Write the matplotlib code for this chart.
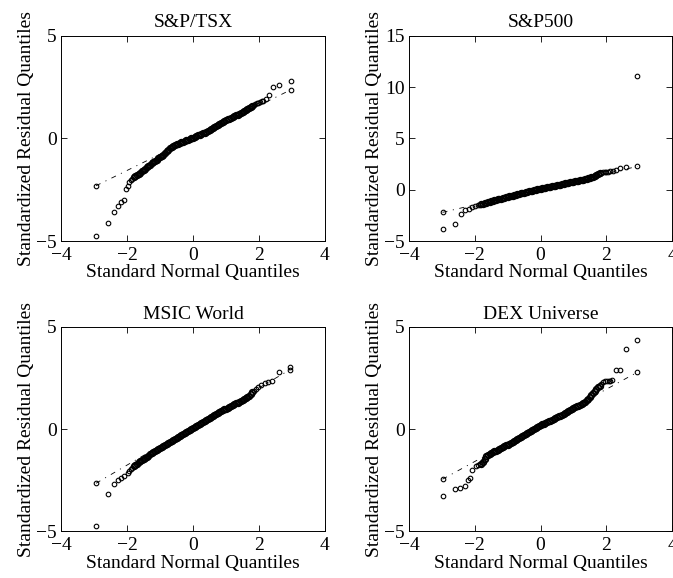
import matplotlib
matplotlib.use("Agg")
import matplotlib.pyplot as plt

plt.rcParams['font.family'] = ['Liberation Serif', 'DejaVu Serif']
plt.rcParams['lines.scale_dashes'] = False

titles = ["S&P/TSX", "S&P500", "MSIC World", "DEX Universe"]
x_label = "Standard Normal Quantiles"
y_label = "Standardized Residual Quantiles"
x_ticks = [-4, -2, 0, 2, 4]
y_ticks_small = [-5, 0, 5]
y_ticks_sp500 = [-5, 0, 5, 10, 15]

# shared central normal quantiles (dense part of each Q-Q plot)
mid_x = [-1.80, -1.75, -1.70, -1.65, -1.60, -1.55, -1.50, -1.45, -1.40, -1.35,
         -1.30, -1.25, -1.20, -1.15, -1.10, -1.05, -1.00, -0.95, -0.90, -0.85,
         -0.80, -0.75, -0.70, -0.65, -0.60, -0.55, -0.50, -0.45, -0.40, -0.35,
         -0.30, -0.25, -0.20, -0.15, -0.10, -0.05, 0.00, 0.05, 0.10, 0.15,
         0.20, 0.25, 0.30, 0.35, 0.40, 0.45, 0.50, 0.55, 0.60, 0.65,
         0.70, 0.75, 0.80, 0.85, 0.90, 0.95, 1.00, 1.05, 1.10, 1.15,
         1.20, 1.25, 1.30, 1.35, 1.40, 1.45, 1.50, 1.55, 1.60, 1.65,
         1.70, 1.75, 1.80]

# S&P/TSX
tsx_mid_y = [-1.90, -1.84, -1.78, -1.73, -1.67, -1.61, -1.54, -1.48, -1.41, -1.34,
             -1.28, -1.21, -1.15, -1.10, -1.04, -0.98, -0.93, -0.88, -0.80, -0.72,
             -0.64, -0.56, -0.48, -0.41, -0.37, -0.33, -0.29, -0.26, -0.23, -0.20,
             -0.16, -0.12, -0.09, -0.06, -0.02, 0.01, 0.04, 0.07, 0.11, 0.14,
             0.17, 0.21, 0.24, 0.28, 0.32, 0.36, 0.40, 0.44, 0.49, 0.53,
             0.58, 0.63, 0.69, 0.75, 0.80, 0.84, 0.88, 0.92, 0.96, 1.00,
             1.04, 1.08, 1.12, 1.16, 1.20, 1.24, 1.28, 1.32, 1.37, 1.42,
             1.47, 1.52, 1.57]
tsx_tail_x = [-2.94, -2.58, -2.39, -2.28, -2.18, -2.09, -2.04, -1.98, -1.93, -1.88, -1.84,
              1.85, 1.88, 1.93, 1.98, 2.03, 2.08, 2.13, 2.21, 2.30, 2.43, 2.61, 2.97]
tsx_tail_y = [-4.77, -4.11, -3.61, -3.28, -3.09, -3.01, -2.47, -2.34, -2.11, -2.03, -1.96,
              1.62, 1.66, 1.70, 1.73, 1.76, 1.80, 1.84, 1.91, 2.11, 2.52, 2.59, 2.80]
tsx_line_x = [-2.94, 2.97]
tsx_line_y = [-2.31, 2.37]

# S&P500
sp500_mid_y = [-1.42, -1.37, -1.32, -1.27, -1.22, -1.18, -1.13, -1.09, -1.04, -1.00,
               -0.95, -0.91, -0.86, -0.82, -0.78, -0.73, -0.69, -0.65, -0.61, -0.57,
               -0.53, -0.49, -0.45, -0.41, -0.37, -0.33, -0.29, -0.25, -0.21, -0.17,
               -0.13, -0.09, -0.05, -0.02, 0.02, 0.05, 0.08, 0.12, 0.15, 0.19,
               0.22, 0.26, 0.29, 0.33, 0.36, 0.40, 0.43, 0.47, 0.50, 0.54,
               0.57, 0.61, 0.64, 0.68, 0.71, 0.75, 0.78, 0.82, 0.85, 0.89,
               0.92, 0.96, 0.99, 1.03, 1.07, 1.11, 1.15, 1.20, 1.26, 1.33,
               1.42, 1.52, 1.60]
sp500_tail_x = [-2.98, -2.61, -2.43, -2.29, -2.18, -2.09, -1.98, -1.90, -1.85,
                1.85, 1.90, 1.95, 2.00, 2.06, 2.12, 2.20, 2.30, 2.42, 2.60, 2.95]
sp500_tail_y = [-3.80, -3.31, -2.37, -1.95, -1.85, -1.72, -1.62, -1.54, -1.48,
                1.66, 1.70, 1.72, 1.74, 1.76, 1.78, 1.82, 1.88, 2.07, 2.17, 11.08]
sp500_line_x = [-2.98, 2.95]
sp500_line_y = [-2.21, 2.27]

# MSIC World
msci_mid_y = [-1.82, -1.75, -1.69, -1.63, -1.57, -1.51, -1.45, -1.40, -1.34, -1.29,
              -1.23, -1.18, -1.13, -1.08, -1.03, -0.97, -0.92, -0.87, -0.82, -0.77,
              -0.71, -0.66, -0.61, -0.56, -0.51, -0.46, -0.41, -0.37, -0.32, -0.27,
              -0.22, -0.17, -0.13, -0.08, -0.03, 0.01, 0.05, 0.10, 0.15, 0.20,
              0.25, 0.30, 0.35, 0.39, 0.44, 0.49, 0.54, 0.59, 0.64, 0.69,
              0.73, 0.78, 0.83, 0.88, 0.93, 0.97, 1.01, 1.05, 1.09, 1.13,
              1.18, 1.22, 1.26, 1.30, 1.34, 1.38, 1.43, 1.47, 1.52, 1.57,
              1.63, 1.72, 1.82]
msci_tail_x = [-2.94, -2.58, -2.40, -2.28, -2.18, -2.08, -1.98, -1.93, -1.88, -1.84,
               1.85, 1.90, 1.97, 2.07, 2.17, 2.27, 2.39, 2.61, 2.93]
msci_tail_y = [-4.74, -3.19, -2.70, -2.49, -2.37, -2.27, -2.16, -2.05, -1.96, -1.89,
               1.88, 1.95, 2.05, 2.16, 2.25, 2.33, 2.38, 2.82, 3.03]
msci_line_x = [-2.94, 2.93]
msci_line_y = [-2.65, 2.90]

# DEX Universe
dex_mid_y = [-1.70, -1.62, -1.48, -1.32, -1.27, -1.22, -1.17, -1.13, -1.09, -1.05,
             -1.01, -0.97, -0.92, -0.88, -0.84, -0.80, -0.76, -0.72, -0.67, -0.62,
             -0.57, -0.52, -0.47, -0.42, -0.37, -0.32, -0.27, -0.22, -0.17, -0.12,
             -0.08, -0.03, 0.02, 0.07, 0.11, 0.15, 0.19, 0.23, 0.26, 0.30,
             0.34, 0.38, 0.42, 0.46, 0.50, 0.54, 0.58, 0.62, 0.66, 0.70,
             0.74, 0.79, 0.84, 0.89, 0.93, 0.98, 1.03, 1.07, 1.11, 1.15,
             1.19, 1.24, 1.29, 1.35, 1.41, 1.48, 1.56, 1.65, 1.75, 1.85,
             1.95, 2.05, 2.12]
dex_tail_x = [-2.98, -2.61, -2.44, -2.31, -2.21, -2.13, -2.07, -1.96, -1.90, -1.85,
              1.85, 1.91, 1.96, 2.02, 2.07, 2.12, 2.19, 2.29, 2.42, 2.60, 2.95]
dex_tail_y = [-3.25, -2.93, -2.86, -2.78, -2.49, -2.37, -2.00, -1.79, -1.76, -1.73,
              2.21, 2.30, 2.35, 2.38, 2.38, 2.38, 2.39, 2.90, 2.91, 3.91, 4.37]
dex_line_x = [-2.98, 2.95]
dex_line_y = [-2.45, 2.79]

panels = [
    (titles[0], tsx_mid_y, tsx_tail_x, tsx_tail_y, tsx_line_x, tsx_line_y, (-5, 5), y_ticks_small),
    (titles[1], sp500_mid_y, sp500_tail_x, sp500_tail_y, sp500_line_x, sp500_line_y, (-5, 15), y_ticks_sp500),
    (titles[2], msci_mid_y, msci_tail_x, msci_tail_y, msci_line_x, msci_line_y, (-5, 5), y_ticks_small),
    (titles[3], dex_mid_y, dex_tail_x, dex_tail_y, dex_line_x, dex_line_y, (-5, 5), y_ticks_small),
]

W, H = 673, 578
fig = plt.figure(figsize=(W / 100, H / 100), dpi=100)
rects = [
    (61 / W, 1 - 241 / H, 264 / W, 205.3 / H),
    (409 / W, 1 - 241 / H, 263 / W, 205.3 / H),
    (61 / W, 1 - 531.3 / H, 264 / W, 204.3 / H),
    (409 / W, 1 - 531.3 / H, 263 / W, 204.3 / H),
]

tail_mk = dict(marker='o', markersize=3.3, markerfacecolor='none',
               markeredgecolor='black', markeredgewidth=0.8, linestyle='none')
mid_mk = dict(marker='o', markersize=4.0, markerfacecolor='none',
              markeredgecolor='black', markeredgewidth=1.3, linestyle='none')

for rect, (title, mid_y, tx, ty, lx, ly, ylim, yt) in zip(rects, panels):
    ax = fig.add_axes(rect)
    ax.plot(lx, ly, color='black', linewidth=0.6, linestyle=(0, (3.6, 4.0, 0.8, 4.0)),
            marker='o', markersize=3.3, markerfacecolor='none',
            markeredgecolor='black', markeredgewidth=0.8)
    ax.plot(mid_x, mid_y, **mid_mk)
    ax.plot(tx, ty, **tail_mk)
    ax.set_xlim(-4, 4)
    ax.set_ylim(*ylim)
    ax.set_xticks(x_ticks)
    ax.set_yticks(yt)
    ax.tick_params(axis='x', pad=4)
    ax.tick_params(axis='y', pad=3)
    ax.tick_params(direction='in', length=4, width=0.6, top=True, right=True,
                   labelsize=14)
    for s in ax.spines.values():
        s.set_linewidth(0.7)
    ax.set_title(title, fontsize=14, pad=6)
    ax.set_xlabel(x_label, fontsize=14, labelpad=0.5)
    ax.set_ylabel(y_label, fontsize=14, labelpad=1)

fig.savefig("out.png", dpi=100)
